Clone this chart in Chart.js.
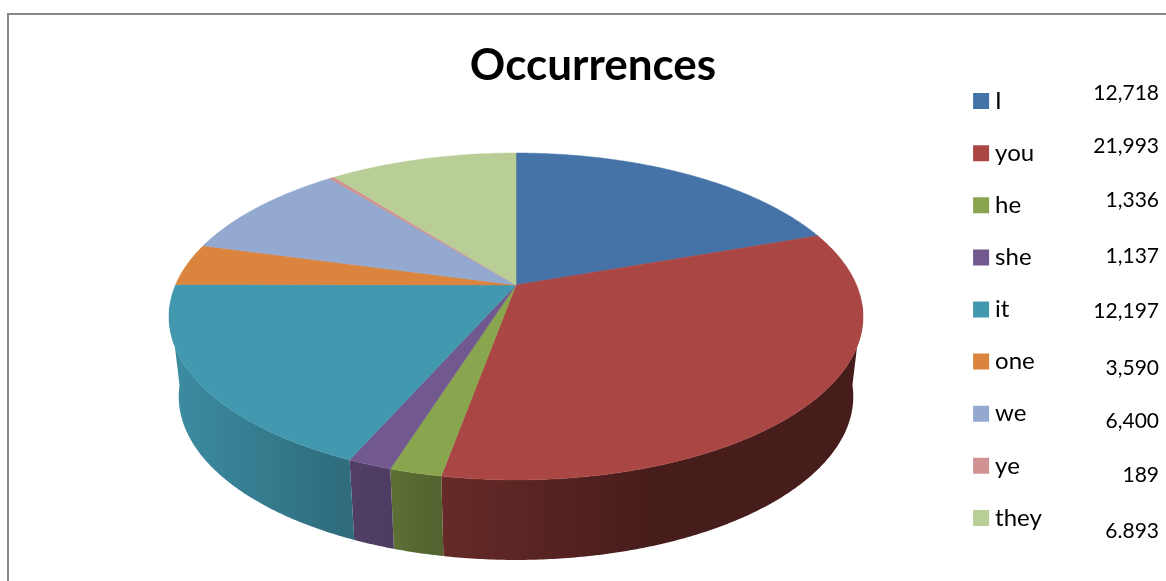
<!DOCTYPE html>
<html>
<head>
<meta charset="utf-8">
<style>html,body{margin:0;padding:0;background:#fff}canvas{display:block}</style>
<script src="https://cdn.jsdelivr.net/npm/chart.js@4/dist/chart.umd.min.js"></script>
</head>
<body>
<canvas id="c" width="1166" height="581"></canvas>
<script>
const categories = ['I','you','he','she','it','one','we','ye','they'];
const occurrences = [12718,21993,1336,1137,12197,3590,6400,189,6893];
const valueLabels = ['12,718','21,993','1,336','1,137','12,197','3,590','6,400','189','6.893'];
const sliceColors = ['#4572A7','#AA4643','#89A54E','#71588F','#4198AF','#DB843D','#93A9CF','#D19392','#B9CD96'];

const FONT = 'Lato, Carlito, sans-serif';
const valueBaselines = [100,153,207,263,318,375,428,482,538];

// perspective of the pie's top face
const PX = 516, PY = 285, A = 340.5, B = 157.4, P = 0.1926;
const DEPTH = 80, SHRINK = 0.972;
const TOP_ANGLE = -Math.PI/2;
// small view correction (degrees, clockwise from 12 o'clock): the reference's 3D
// projection does not keep the slices strictly proportional
const viewAt = [0,69,188,267,287,322,360];
const viewBy = [0,1.7,2.2,2.8,-1.8,-0.6,0];
function view(a){
  const d=((a-TOP_ANGLE)*180/Math.PI+720)%360;
  for(let i=1;i<viewAt.length;i++){
    if(d<=viewAt[i]){
      const t=(d-viewAt[i-1])/(viewAt[i]-viewAt[i-1]);
      return a+(viewBy[i-1]+(viewBy[i]-viewBy[i-1])*t)*Math.PI/180;
    }
  }
  return a;
}
function topPoint(a0){
  const a=view(a0), u=Math.cos(a), v=Math.sin(a), w=1-P*v;
  return [PX+A*u/w, PY+B*v/w];
}
function bottomPoint(a){
  const t=topPoint(a);
  return [PX+(t[0]-PX)*SHRINK, t[1]+DEPTH];
}
const shadeX = [170,190,340,390,440,650,870];
const shadeF = [0.92,0.90,0.72,0.68,0.60,0.42,0.42];
function mult(hex,f){
  const n=parseInt(hex.slice(1),16);
  return 'rgb('+Math.round((n>>16&255)*f)+','+Math.round((n>>8&255)*f)+','+Math.round((n&255)*f)+')';
}
const STEP = Math.PI/360;

const pie3d = {
  id:'pie3d',
  beforeDraw(chart){
    const c=chart.ctx;
    c.save();
    c.strokeStyle='#878787';c.lineWidth=2;
    c.beginPath();c.moveTo(8,581);c.lineTo(8,14);c.lineTo(1166,14);c.stroke();
    c.restore();
  },
  beforeDatasetDraw(chart,args){
    const c=chart.ctx, arcs=args.meta.data, colors=chart.data.datasets[0].backgroundColor;
    c.save();
    // side wall: union of small strips per slice, shaded across x
    arcs.forEach((el,i)=>{
      const n=Math.max(2,Math.ceil((el.endAngle-el.startAngle)/STEP));
      const g=c.createLinearGradient(shadeX[0],0,shadeX[shadeX.length-1],0);
      shadeX.forEach((x,j)=>g.addColorStop((x-shadeX[0])/(shadeX[shadeX.length-1]-shadeX[0]),mult(colors[i],shadeF[j])));
      c.fillStyle=g;
      c.beginPath();
      let any=false;
      for(let k=0;k<n;k++){
        const a0=el.startAngle+(el.endAngle-el.startAngle)*k/n;
        const a1=el.startAngle+(el.endAngle-el.startAngle)*(k+1)/n;
        if(Math.sin(view(a0))<0.12||Math.sin(view(a1))<0.12) continue;
        const t0=topPoint(a0),t1=topPoint(a1),b0=bottomPoint(a0),b1=bottomPoint(a1);
        c.moveTo(t0[0],t0[1]);c.lineTo(t1[0],t1[1]);c.lineTo(b1[0],b1[1]);c.lineTo(b0[0],b0[1]);c.closePath();
        any=true;
      }
      if(any) c.fill('nonzero');
    });
    // top face
    arcs.forEach((el,i)=>{
      const n=Math.max(2,Math.ceil((el.endAngle-el.startAngle)/STEP));
      c.fillStyle=colors[i];c.strokeStyle=colors[i];c.lineWidth=0.5;c.lineJoin='round';
      c.beginPath();c.moveTo(PX,PY);
      for(let k=0;k<=n;k++){
        const p=topPoint(el.startAngle+(el.endAngle-el.startAngle)*k/n);
        c.lineTo(p[0],p[1]);
      }
      c.closePath();c.fill();c.stroke();
    });
    c.restore();
    return false;
  },
  afterLayout(chart){
    const lg=chart.legend, tb=chart.titleBlock;
    const w=lg.width,h=lg.height;
    lg.left=951;lg.right=951+w;lg.top=61;lg.bottom=61+h;
    tb.left=0;tb.right=1186;tb.top=0;
  },
  afterDraw(chart){
    const c=chart.ctx;
    c.save();
    c.font='21px '+FONT;c.fillStyle='#000';c.textAlign='right';c.textBaseline='alphabetic';
    valueLabels.forEach((t,i)=>c.fillText(t,1159,valueBaselines[i]));
    c.restore();
  }
};

new Chart(document.getElementById('c'),{
  type:'pie',
  data:{labels:categories,datasets:[{data:occurrences,backgroundColor:sliceColors,borderWidth:0}]},
  plugins:[pie3d],
  options:{
    responsive:false,animation:false,
    layout:{padding:{right:120}},
    plugins:{
      tooltip:{enabled:false},
      title:{display:true,text:'Occurrences',color:'#000',font:{family:FONT,size:44,weight:'bold',lineHeight:1.2},padding:{top:39,bottom:0}},
      legend:{
        display:true,position:'right',align:'start',
        labels:{
          font:{family:FONT,size:24},color:'#000',boxWidth:4,boxHeight:4,padding:28.1,
          generateLabels(chart){
            return categories.map((t,i)=>({text:t,fillStyle:sliceColors[i],strokeStyle:sliceColors[i],lineWidth:12,fontColor:'#000',index:i,hidden:false}));
          }
        }
      }
    }
  }
});
</script>
</body>
</html>
